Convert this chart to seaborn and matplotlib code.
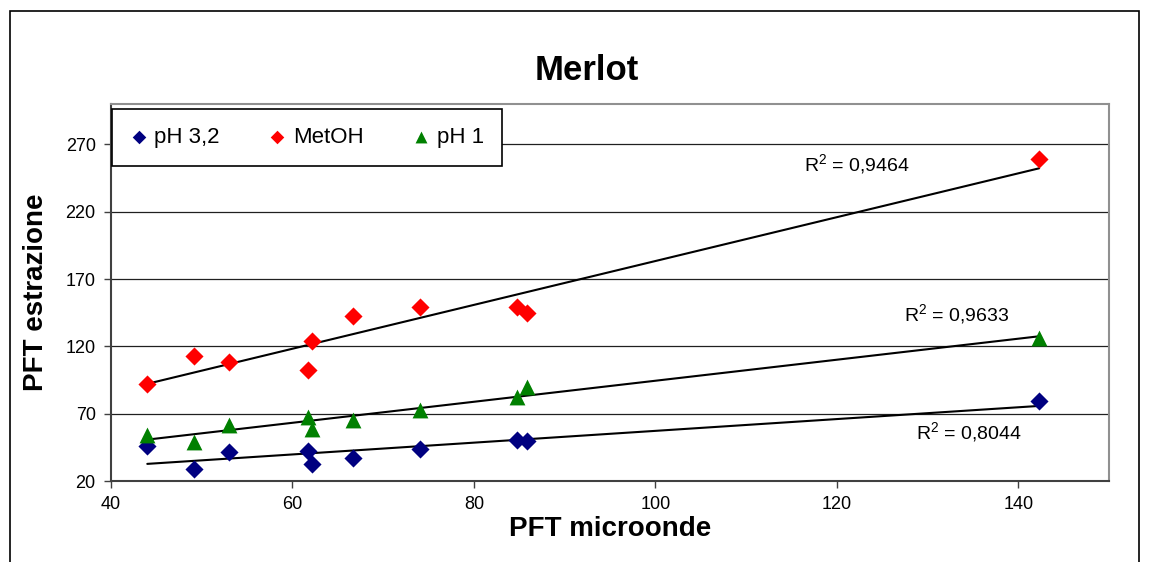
import matplotlib as mpl
mpl.use('Agg')
import matplotlib.pyplot as plt
import numpy as np
import pandas as pd
import seaborn as sns
from matplotlib.patches import Rectangle

# values
pft_microonde = [44.0, 49.2, 53.0, 61.7, 62.1, 66.7, 74.1, 84.8, 85.8, 142.3]
ph32 = [45.9, 28.7, 41.2, 42.4, 32.8, 36.8, 43.9, 50.8, 49.8, 79.2]
metoh = [91.7, 112.5, 108.2, 102.6, 124.1, 142.3, 148.9, 149.4, 144.8, 259.4]
ph1 = [54.5, 49.1, 61.9, 67.6, 59.0, 65.6, 72.7, 82.4, 89.7, 126.5]

series = ['pH 3,2', 'MetOH', 'pH 1']
colors = {'pH 3,2': '#000080', 'MetOH': '#FF0000', 'pH 1': '#008000'}
markers = {'pH 3,2': 'D', 'MetOH': 'D', 'pH 1': '^'}
msizes = {'pH 3,2': 85, 'MetOH': 85, 'pH 1': 130}
r2_labels = ['R$^2$ = 0,8044', 'R$^2$ = 0,9464', 'R$^2$ = 0,9633']
r2_pos = [(134.6, 56.2), (122.2, 255.2), (133.2, 144.3)]

x_ticks = [40, 60, 80, 100, 120, 140]
y_ticks = [20, 70, 120, 170, 220, 270]

df = pd.concat([
    pd.DataFrame({'x': pft_microonde, 'y': vals, 'serie': name})
    for name, vals in zip(series, [ph32, metoh, ph1])
])


def main():
    sns.set_style('white')
    plt.rcParams['font.family'] = ['Liberation Sans', 'DejaVu Sans']
    plt.rcParams['mathtext.fontset'] = 'custom'
    plt.rcParams['mathtext.rm'] = 'Liberation Sans'
    plt.rcParams['mathtext.default'] = 'rm'
    for key in ['text.color', 'axes.labelcolor', 'xtick.color', 'ytick.color']:
        plt.rcParams[key] = 'black'

    fig = plt.figure(figsize=(11.49, 5.62), dpi=100)
    ax = fig.add_axes([0.0966, 0.1441, 0.8686, 0.6708])

    for name in series:
        sub = df[df['serie'] == name]
        sns.scatterplot(data=sub, x='x', y='y', color=colors[name], marker=markers[name],
                        s=msizes[name], linewidth=0, label=name, ax=ax, zorder=3)
        sns.regplot(data=sub, x='x', y='y', scatter=False, ci=None, truncate=True,
                    color='black', line_kws={'lw': 1.5, 'zorder': 2}, ax=ax)

    for lab, (tx, ty) in zip(r2_labels, r2_pos):
        ax.text(tx, ty, lab, ha='center', va='center', fontsize=14)

    ax.set_xlim(40, 150)
    ax.set_ylim(20, 300)
    ax.set_xticks(x_ticks)
    ax.set_yticks(y_ticks)
    ax.yaxis.grid(True, color='#202020', lw=0.9)
    ax.set_axisbelow(True)
    ax.tick_params(axis='both', direction='out', length=5, width=1, color='#404040',
                   labelsize=13, left=True, bottom=True, pad=6)

    for side in ['left', 'bottom']:
        ax.spines[side].set_color('#404040')
        ax.spines[side].set_linewidth(1.5)
    for side in ['top', 'right']:
        ax.spines[side].set_color('#909090')
        ax.spines[side].set_linewidth(1.5)

    ax.set_xlabel('PFT microonde', fontsize=20, fontweight='bold', labelpad=2)
    ax.set_ylabel('PFT estrazione', fontsize=20, fontweight='bold', labelpad=12)

    leg = ax.legend(loc='upper left', bbox_to_anchor=(0.001, 0.986), ncol=3,
                    frameon=True, fancybox=False, edgecolor='black', framealpha=1,
                    borderaxespad=0, fontsize=16, borderpad=0.8, columnspacing=2.2,
                    handlelength=0.8, handletextpad=0.3, markerscale=0.75)
    leg.get_frame().set_linewidth(1.2)

    fig.text(0.511, 0.875, 'Merlot', ha='center', va='center', fontsize=25,
             fontweight='bold')

    fig.add_artist(Rectangle((0.0087, -0.1), 0.983, 1.08, transform=fig.transFigure,
                             fill=False, ec='black', lw=1.2))

    fig.savefig('out.png', dpi=100)
    plt.close(fig)


if __name__ == '__main__':
    main()
